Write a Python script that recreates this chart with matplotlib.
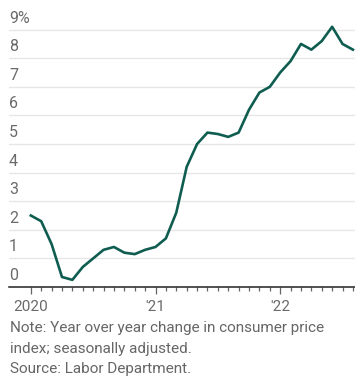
import matplotlib
matplotlib.use("Agg")
import matplotlib.pyplot as plt
from matplotlib.transforms import offset_copy, blended_transform_factory

plt.rcParams['font.family'] = ['Roboto', 'DejaVu Sans']

# Monthly CPI year-over-year change, Jan 2020 .. Aug 2022
cpi = [2.5, 2.3, 1.5, 0.35, 0.25, 0.7, 1.0, 1.3, 1.4, 1.2, 1.15, 1.3,
       1.4, 1.7, 2.6, 4.2, 5.0, 5.4, 5.35, 5.25, 5.4, 6.2, 6.8, 7.0,
       7.5, 7.9, 8.5, 8.3, 8.6, 9.1, 8.5, 8.3]
months = list(range(len(cpi)))
ytick_vals = [0, 1, 2, 3, 4, 5, 6, 7, 8, 9]
ytick_labels = ['0', '1', '2', '3', '4', '5', '6', '7', '8', '9%']
xmajor_pos = [0, 12, 24]
xmajor_labels = ['2020', "'21", "'22"]
notes = ["Note: Year over year change in consumer price",
         "index; seasonally adjusted.",
         "Source: Labor Department."]

W, H = 355, 383
fig = plt.figure(figsize=(W / 100, H / 100), dpi=100)
bottom_px, top_px, left_px = 287, 18.2, 9
ax = fig.add_axes([left_px / W, 1 - bottom_px / H, 1 - left_px / W, (bottom_px - top_px) / H])
ax.set_xlim(-2.1, 31.2)
ax.set_ylim(0, 9.4)

grid_c = '#e6e6e6'
for v in ytick_vals[1:]:
    ax.axhline(v, color=grid_c, lw=1.0, zorder=1)

ax.plot(months, cpi, color='#0f5d50', lw=1.9, zorder=3, solid_joinstyle='round')

for s in ['top', 'right', 'left']:
    ax.spines[s].set_visible(False)
ax.spines['bottom'].set_color('#222222')
ax.spines['bottom'].set_linewidth(1.1)

ax.set_yticks([])
ax.set_xticks(xmajor_pos)
ax.set_xticklabels(xmajor_labels)
ax.set_xticks([m for m in months if m not in xmajor_pos], minor=True)
ax.tick_params(axis='x', which='major', length=5.2, width=0.9, color='#666666',
               labelsize=11, labelcolor='#6a6a6a', pad=4)
ax.tick_params(axis='x', which='minor', length=3.0, width=0.9, color='#666666')

trans = blended_transform_factory(ax.transAxes, ax.transData)
trans = offset_copy(trans, fig=fig, x=0, y=4, units='dots')
for v, lab in zip(ytick_vals, ytick_labels):
    ax.text(0, v, lab, transform=trans, ha='left', va='bottom',
            fontsize=11.5, color='#6a6a6a', clip_on=False)

for i, t in enumerate(notes):
    fig.text(10 / W, 1 - (328 + 20.5 * i) / H, t, ha='left', va='center',
             fontsize=11, color='#666666')

fig.savefig('out.png', dpi=100)
